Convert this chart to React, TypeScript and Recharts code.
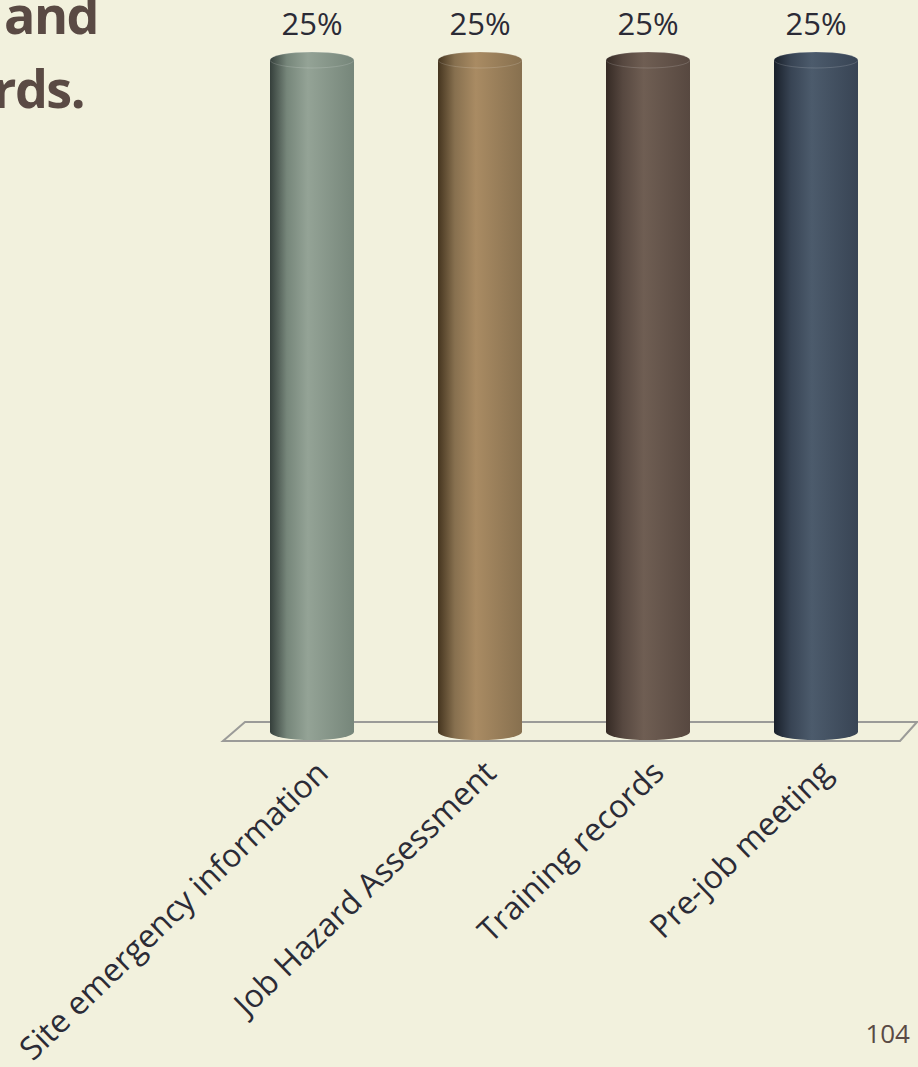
import { BarChart, Bar, XAxis, YAxis, LabelList, ReferenceArea } from 'recharts'

// Survey result slide: four equal answers drawn as 3D-looking cylinders on a floor.
const categories = ['Site emergency information', 'Job Hazard Assessment', 'Training records', 'Pre-job meeting']
const shares = [25, 25, 25, 25]
const titleLines = ['and', 'rds.']
const pageNumber = '104'

// dark edge, highlight, right side
const palette = [
  ['#353f3b', '#94a396', '#76867a'],
  ['#45351f', '#a98b63', '#87704f'],
  ['#352a24', '#6f5e53', '#574840'],
  ['#19202a', '#4c5b6c', '#384454'],
]

const BG = '#f2f1dd'
const FONT = '"Open Sans", sans-serif'

const data = categories.map((name, i) => ({ name, value: shares[i] }))

function Cylinder(props: any) {
  const { x, y, width, height, index } = props
  const rx = width / 2
  const ry = 8
  const bottom = y + height
  return (
    <g>
      <path
        d={`M${x},${y} L${x},${bottom} A${rx},${ry} 0 0 0 ${x + width},${bottom} L${x + width},${y} Z`}
        fill={`url(#cyl${index})`}
      />
      <ellipse cx={x + rx} cy={y} rx={rx} ry={ry} fill={`url(#cyl${index})`} stroke="rgba(255,255,255,0.15)" strokeWidth={1} />
    </g>
  )
}

// floor plate under the bars, skewed a bit to fake perspective
function Floor(props: any) {
  const { x, y, width, height } = props
  const base = y + height
  const pts = [
    [x - 5, base + 9],
    [x + width, base + 9],
    [x + width + 17, base - 10],
    [x + 17, base - 10],
  ]
  return <polygon points={pts.map((p) => p.join(',')).join(' ')} fill="none" stroke="#9b9b98" strokeWidth={2} />
}

function Tick(props: any) {
  const { x, y, payload } = props
  return (
    <text
      transform={`translate(${x + 18},${y + 35}) rotate(-44)`}
      textAnchor="end"
      fontFamily={FONT}
      fontSize={32}
      fill="#2b2b36"
    >
      {payload.value}
    </text>
  )
}

export default function App() {
  return (
    <div style={{ position: 'absolute', left: 0, top: 0, width: 918, height: 1067, background: BG, overflow: 'hidden' }}>
      <BarChart width={918} height={1067} data={data} margin={{ top: 60, right: 18, left: 228, bottom: 35 }} barCategoryGap="25%">
        <defs>
          {palette.map(([dark, light, side], i) => (
            <linearGradient key={i} id={`cyl${i}`} x1="0" y1="0" x2="1" y2="0">
              <stop offset="0%" stopColor={dark} />
              <stop offset="20%" stopColor={side} />
              <stop offset="45%" stopColor={light} />
              <stop offset="100%" stopColor={side} />
            </linearGradient>
          ))}
        </defs>
        <XAxis dataKey="name" height={300} axisLine={false} tickLine={false} interval={0} tick={<Tick />} />
        <YAxis hide domain={[0, 25]} />
        <ReferenceArea y1={0} y2={0.2} shape={<Floor />} ifOverflow="visible" />
        <Bar dataKey="value" shape={<Cylinder />} isAnimationActive={false}>
          <LabelList
            dataKey="value"
            position="top"
            offset={25}
            formatter={(v: any) => `${v}%`}
            fill="#2b2b36"
            fontSize={31}
            fontFamily={FONT}
          />
        </Bar>
        <text x={98} y={34} textAnchor="end" fontFamily={FONT} fontWeight={700} fontSize={52} letterSpacing={-1.5} fill="#5a4a44">
          {titleLines[0]}
        </text>
        <text x={84} y={108} textAnchor="end" fontFamily={FONT} fontWeight={700} fontSize={52} letterSpacing={-1.5} fill="#5a4a44">
          {titleLines[1]}
        </text>
        <text x={910} y={1043} textAnchor="end" fontFamily={FONT} fontSize={26} fill="#5a4a44">
          {pageNumber}
        </text>
      </BarChart>
    </div>
  )
}
